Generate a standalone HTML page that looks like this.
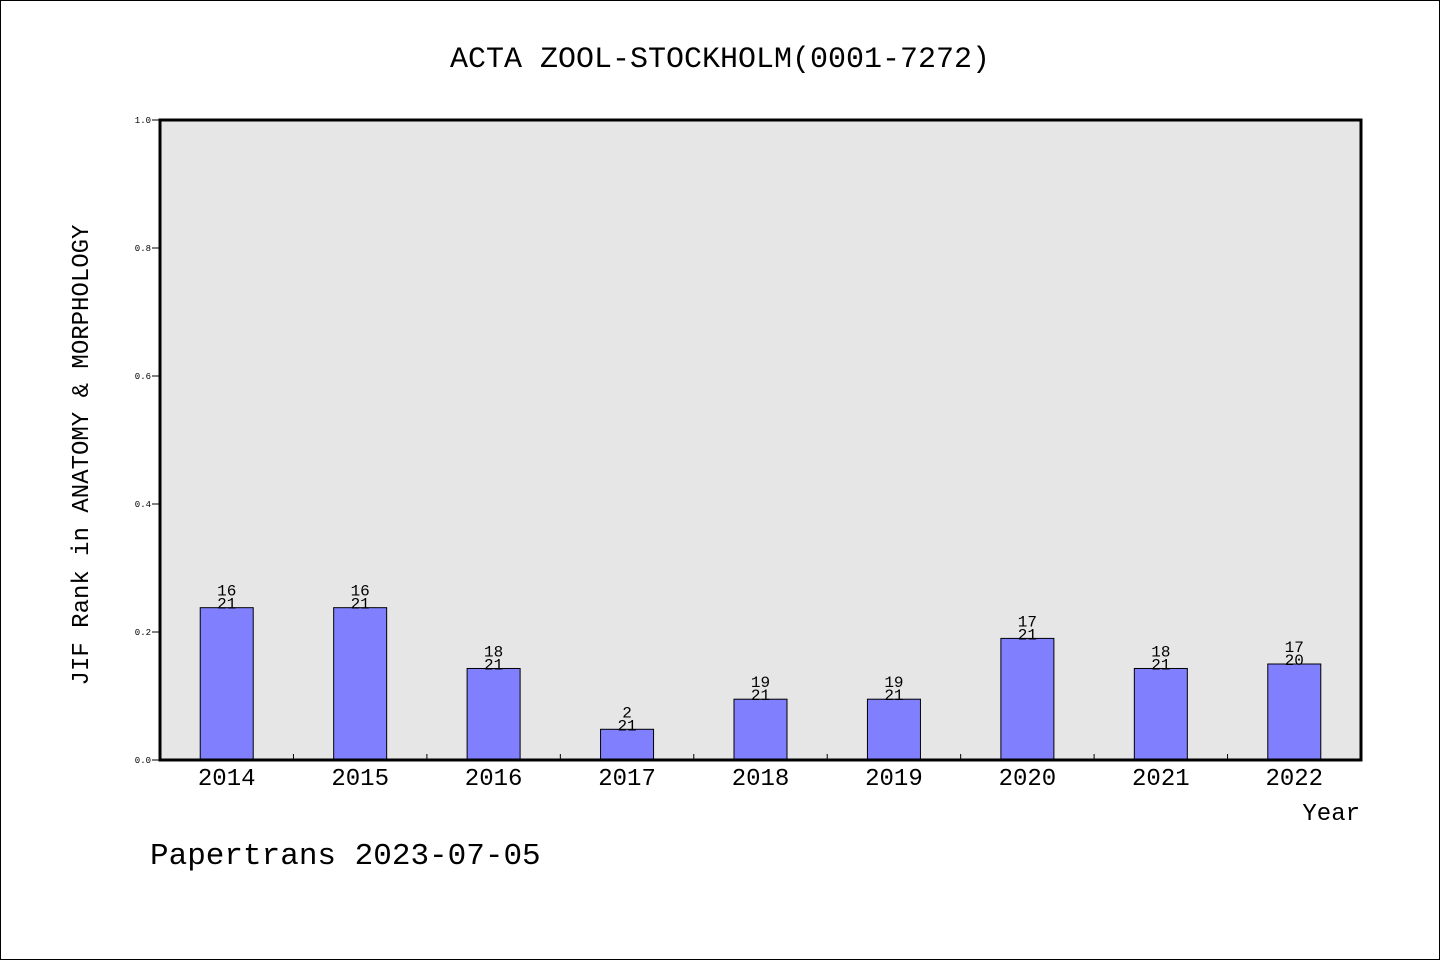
<!DOCTYPE html>
<html><head><meta charset="utf-8"><style>
html,body{margin:0;padding:0;background:#fff;}
svg text{font-family:"Liberation Mono","DejaVu Sans Mono",monospace;fill:#000;}
</style></head><body>
<svg width="1440" height="960" xmlns="http://www.w3.org/2000/svg">
<rect x="0.5" y="0.5" width="1439" height="959" fill="#fff" stroke="#000"/>
<text x="720" y="67" font-size="30" text-anchor="middle">ACTA ZOOL-STOCKHOLM(0001-7272)</text>
<rect x="160" y="120" width="1201" height="640" fill="#e6e6e6"/>
<g id="yaxis"></g>
<g id="bars"></g>
<g id="xaxis"></g>
<rect x="160" y="120" width="1201" height="640" fill="none" stroke="#000" stroke-width="3"/>
<text x="0" y="0" font-size="24" text-anchor="middle" transform="translate(88,455) rotate(-90)">JIF Rank in ANATOMY &amp; MORPHOLOGY</text>
<text x="1360" y="820" font-size="24" text-anchor="end">Year</text>
<text x="150" y="864" font-size="31">Papertrans 2023-07-05</text>
</svg>
<script>
const categories = ["2014","2015","2016","2017","2018","2019","2020","2021","2022"];
const values = [0.238,0.238,0.143,0.048,0.095,0.095,0.190,0.143,0.150];
const ranks = ["16","16","18","2","19","19","17","18","17"];
const totals = ["21","21","21","21","21","21","21","21","20"];
const yTicks = ["0.0","0.2","0.4","0.6","0.8","1.0"];
const NS="http://www.w3.org/2000/svg";
const X0=160,X1=1361,Y0=760,Y1=120;
const slot=(X1-X0)/categories.length;
const xC=i=>X0+slot*(i+0.5);
const yS=v=>Y0-(Y0-Y1)*v;
function mk(tag,attrs,parent){const e=document.createElementNS(NS,tag);for(const k in attrs)e.setAttribute(k,attrs[k]);parent.appendChild(e);return e;}
const ya=document.getElementById('yaxis'),bg=document.getElementById('bars'),xa=document.getElementById('xaxis');
yTicks.forEach(t=>{const y=yS(parseFloat(t));
 const l=mk('line',{x1:X0-8,x2:X0,y1:y,y2:y,stroke:'#000','stroke-width':1},ya);
 
 
 const tx=mk('text',{x:X0-9,y:y+3,'font-size':9,'text-anchor':'end'},ya);tx.textContent=t;
 
 
});
const bw=53;
categories.forEach((c,i)=>{
 const cx=xC(i),y=yS(values[i]);
 const r=mk('rect',{x:cx-bw/2,y:y,width:bw,height:Y0-y,fill:'#8080ff',stroke:'#000','stroke-width':1},bg);
 
 
 const t1=mk('text',{x:cx,y:y-12,'font-size':16,'text-anchor':'middle'},bg);t1.textContent=ranks[i];
 
 
 const t2=mk('text',{x:cx,y:y+1,'font-size':16,'text-anchor':'middle'},bg);t2.textContent=totals[i];
 
 
 const xl=mk('text',{x:cx,y:785,'font-size':24,'text-anchor':'middle'},xa);xl.textContent=c;
 
 
 if(i>0){const bx=X0+slot*i;
  const tk=mk('line',{x1:bx,x2:bx,y1:Y0,y2:Y0-6,stroke:'#000','stroke-width':1},xa);
  
  }
});
</script>
</body></html>
